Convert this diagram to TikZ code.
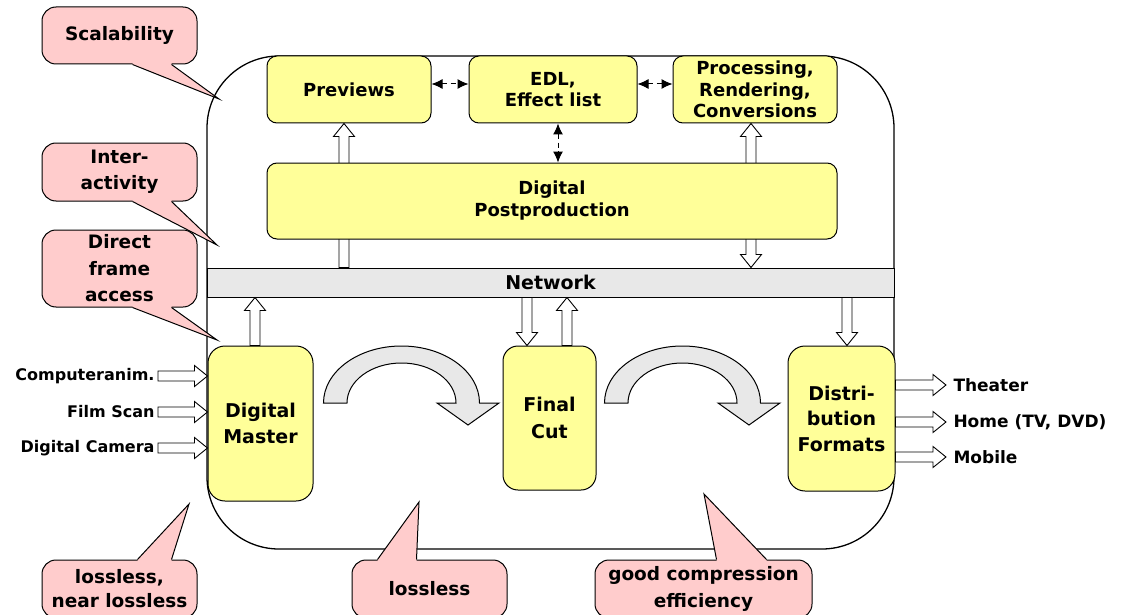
\documentclass[tikz,border=0pt]{standalone}
\usepackage{fontspec}
\setmainfont{DejaVu Sans}
\usetikzlibrary{calc,arrows.meta}
\definecolor{boxyellow}{HTML}{FFFF99}
\definecolor{calloutpink}{HTML}{FFCCCC}
\definecolor{netgray}{HTML}{E8E8E8}
\newcommand\fsz[2]{\fontsize{#1}{#2}\selectfont\bfseries}
\newcommand\ptrdown[4]{%
  \fill[calloutpink] ($(#1.south west)+(#2,-2)$) -- ($(#1.south west)+(#2,0)$) -- (#4) -- ($(#1.south west)+(#3,0)$) -- ($(#1.south west)+(#3,-2)$) -- cycle;
  \draw ($(#1.south west)+(#2,0)$) -- (#4) -- ($(#1.south west)+(#3,0)$);}
\newcommand\ptrup[4]{%
  \fill[calloutpink] ($(#1.north west)+(#2,2)$) -- ($(#1.north west)+(#2,0)$) -- (#4) -- ($(#1.north west)+(#3,0)$) -- ($(#1.north west)+(#3,2)$) -- cycle;
  \draw ($(#1.north west)+(#2,0)$) -- (#4) -- ($(#1.north west)+(#3,0)$);}
\begin{document}
\begin{tikzpicture}[x=1pt,y=-1pt,line width=1pt,
  box/.style={draw, fill=boxyellow, rounded corners=10pt, align=center, inner sep=0pt, font=\fsz{18}{21.7}},
  bigbox/.style={box, rounded corners=17pt, font=\fsz{19}{26.5}},
  callout/.style={draw, fill=calloutpink, rounded corners=14pt, align=center, inner sep=0pt, minimum width=155pt, font=\fsz{18.5}{26.5}},
  inlabel/.style={anchor=east, inner xsep=3pt, inner ysep=0pt, font=\fsz{16}{20}},
  outlabel/.style={anchor=west, inner xsep=7pt, inner ysep=0pt, font=\fsz{17}{20}},
  harrow/.style={draw, fill=white, line width=0.9pt, to path={
    ($(\tikztostart)!5pt!90:(\tikztotarget)$) --
    ($(\tikztotarget)!13pt!(\tikztostart)!5pt!-90:(\tikztostart)$) --
    ($(\tikztotarget)!13pt!(\tikztostart)!10.5pt!-90:(\tikztostart)$) --
    (\tikztotarget) --
    ($(\tikztotarget)!13pt!(\tikztostart)!10.5pt!90:(\tikztostart)$) --
    ($(\tikztotarget)!13pt!(\tikztostart)!5pt!90:(\tikztostart)$) --
    ($(\tikztostart)!5pt!-90:(\tikztotarget)$) -- cycle}},
  hharrow/.style={draw, fill=white, line width=0.9pt, to path={
    (\tikztostart) --
    ($(\tikztostart)!13pt!(\tikztotarget)!10.5pt!90:(\tikztotarget)$) --
    ($(\tikztostart)!13pt!(\tikztotarget)!5pt!90:(\tikztotarget)$) --
    ($(\tikztotarget)!13pt!(\tikztostart)!5pt!-90:(\tikztostart)$) --
    ($(\tikztotarget)!13pt!(\tikztostart)!10.5pt!-90:(\tikztostart)$) --
    (\tikztotarget) --
    ($(\tikztotarget)!13pt!(\tikztostart)!10.5pt!90:(\tikztostart)$) --
    ($(\tikztotarget)!13pt!(\tikztostart)!5pt!90:(\tikztostart)$) --
    ($(\tikztostart)!13pt!(\tikztotarget)!5pt!-90:(\tikztotarget)$) --
    ($(\tikztostart)!13pt!(\tikztotarget)!10.5pt!-90:(\tikztotarget)$) -- cycle}},
  dasharrow/.style={line width=1pt, dash pattern=on 5pt off 3.5pt, {Latex[length=11pt,width=10pt]}-{Latex[length=11pt,width=10pt]}},
  bendarrow/.style={draw, fill=netgray, line width=1pt},
]
\useasboundingbox (0,0) rectangle (1121,615);
\clip (0,0) rectangle (1121,615);

% container
\draw[line width=1.3pt, rounded corners=72pt] (207,56) rectangle (894,549);

% network bar
\node[draw, fill=netgray, minimum width=687pt, minimum height=29pt, inner sep=0pt, font=\fsz{19}{22}] (net) at (550.5,282.5) {Network};

% top boxes
\node[box, minimum width=164pt, minimum height=67pt] (prev) at (349,89.5) {Previews};
\node[box, minimum width=168pt, minimum height=67pt] (edl) at (553,89.5) {EDL,\\Effect list};
\node[box, minimum width=164pt, minimum height=67pt] (proc) at (755,89.5) {Processing,\\Rendering,\\Conversions};

% arrows passing behind Digital Postproduction
\coordinate (xa) at (344,0);
\coordinate (xp) at (751,0);
\coordinate (pa1) at (xa |- net.north);
\coordinate (pa2) at (xa |- prev.south);
\coordinate (pp1) at (xp |- proc.south);
\coordinate (pp2) at (xp |- net.north);
\path[harrow] (pa1) to (pa2);
\path[hharrow] (pp1) to (pp2);

\node[box, minimum width=570pt, minimum height=76pt, font=\fsz{18}{22}] (dp) at (552,201) {Digital\\Postproduction};

% dashed arrows
\draw[dasharrow] ($(prev.east)+(0,-5.5)$) -- ($(edl.west)+(0,-5.5)$);
\draw[dasharrow] ($(edl.east)+(0,-5.5)$) -- ($(proc.west)+(0,-5.5)$);
\coordinate (xe) at (558,0);
\coordinate (pe1) at (xe |- edl.south);
\coordinate (pe2) at (xe |- dp.north);
\draw[dasharrow] (pe1) -- (pe2);

% lower boxes
\node[bigbox, minimum width=105pt, minimum height=155pt] (dm) at (260.5,423.5) {Digital\\Master};
\node[bigbox, rounded corners=15pt, minimum width=93pt, minimum height=144pt] (fc) at (549.5,418) {Final\\Cut};
\node[bigbox, minimum width=107pt, minimum height=145pt, font=\fsz{19}{25.5}] (dist) at (841.5,418.5) {Distri-\\bution\\Formats};

% network to lower boxes
\coordinate (xd) at (255,0);
\coordinate (xf1) at (527,0);
\coordinate (xf2) at (567,0);
\coordinate (xs) at (847,0);
\coordinate (d1) at (xd |- dm.north);
\coordinate (d2) at (xd |- net.south);
\coordinate (f1a) at (xf1 |- net.south);
\coordinate (f1b) at (xf1 |- fc.north);
\coordinate (f2a) at (xf2 |- fc.north);
\coordinate (f2b) at (xf2 |- net.south);
\coordinate (s1) at (xs |- net.south);
\coordinate (s2) at (xs |- dist.north);
\path[harrow] (d1) to (d2);
\path[harrow] (f1a) to (f1b);
\path[harrow] (f2a) to (f2b);
\path[harrow] (s1) to (s2);

% inputs
\node[inlabel] (cin) at (158,376) {Computeranim.};
\node[inlabel] (fin) at (158,412) {Film Scan};
\node[inlabel] (din) at (158,448) {Digital Camera};
\coordinate (cinE) at (cin.east -| dm.west);
\coordinate (finE) at (fin.east -| dm.west);
\coordinate (dinE) at (din.east -| dm.west);
\path[harrow] (cin.east) to (cinE);
\path[harrow] (fin.east) to (finE);
\path[harrow] (din.east) to (dinE);

% outputs
\node[outlabel] (th) at (946,385) {Theater};
\node[outlabel] (ho) at (946,422) {Home (TV, DVD)};
\node[outlabel] (mo) at (946,457) {Mobile};
\coordinate (thS) at (th.west -| dist.east);
\coordinate (hoS) at (ho.west -| dist.east);
\coordinate (moS) at (mo.west -| dist.east);
\path[harrow] (thS) to (th.west);
\path[harrow] (hoS) to (ho.west);
\path[harrow] (moS) to (mo.west);

% bent gray arrows
\path[bendarrow] (323.5,403) arc[start angle=180,end angle=360,x radius=78,y radius=57]
  -- (499,403) -- (468,425) -- (437,403) -- (456,403)
  arc[start angle=0,end angle=-180,x radius=54.5,y radius=40] -- cycle;
\begin{scope}[xshift=281pt]
\path[bendarrow] (323.5,403) arc[start angle=180,end angle=360,x radius=78,y radius=57]
  -- (499,403) -- (468,425) -- (437,403) -- (456,403)
  arc[start angle=0,end angle=-180,x radius=54.5,y radius=40] -- cycle;
\end{scope}

% callouts
\node[callout, minimum height=57pt] (scal) at (119.5,35.5) {\raisebox{-2pt}{Scalability}};
\coordinate (scaltip) at (219,99);
\ptrdown{scal}{91}{130}{scaltip}
\node[callout, minimum height=58pt] (inter) at (119.5,172) {Inter-\\activity};
\coordinate (intertip) at (217,245);
\ptrdown{inter}{91}{130}{intertip}
\node[callout, minimum height=77pt] (direct) at (119.5,268.5) {Direct\\frame\\access};
\coordinate (directtip) at (217,340);
\ptrdown{direct}{91}{130}{directtip}
\node[callout, minimum height=58pt, font=\fsz{18.5}{24}] (llA) at (119.5,589) {lossless,\\near lossless};
\coordinate (llAtip) at (189,504);
\ptrup{llA}{96}{130}{llAtip}
\node[callout, minimum height=58pt] (llB) at (429.5,589) {lossless};
\coordinate (llBtip) at (419,502);
\ptrup{llB}{26}{65}{llBtip}
\node[callout, minimum width=217pt, minimum height=58pt] (gce) at (703.5,589) {good compression\\efficiency};
\coordinate (gcetip) at (704,494);
\ptrup{gce}{122}{172}{gcetip}
\end{tikzpicture}
\end{document}
